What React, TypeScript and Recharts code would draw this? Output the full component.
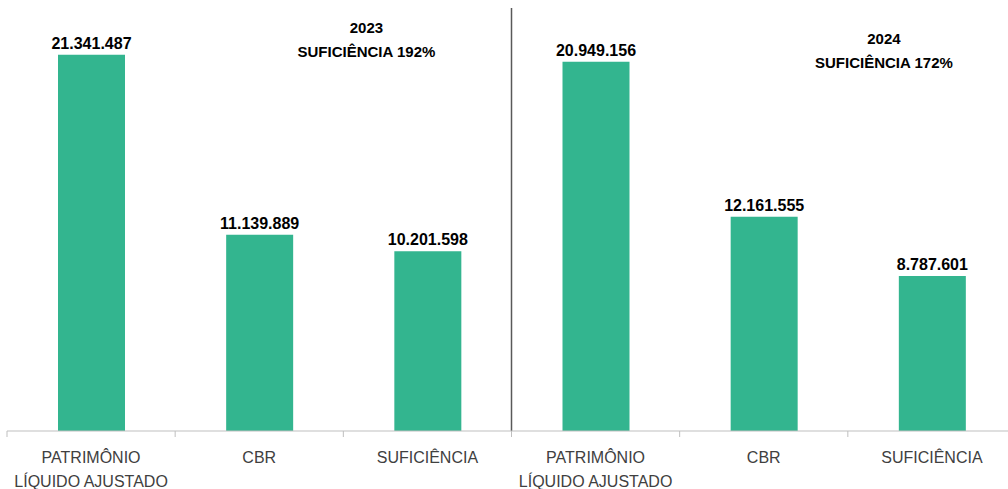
import React from 'react';
import { BarChart, Bar, XAxis, YAxis, LabelList, ReferenceLine, ReferenceDot } from 'recharts';

// two-year comparison: patrimônio líquido ajustado vs CBR vs suficiência
const categories = ['PL23', 'CBR23', 'SUF23', 'PL24', 'CBR24', 'SUF24'];
const values = [21341487, 11139889, 10201598, 20949156, 12161555, 8787601];
const tickLines = [
  ['PATRIMÔNIO', 'LÍQUIDO AJUSTADO'],
  ['CBR'],
  ['SUFICIÊNCIA'],
  ['PATRIMÔNIO', 'LÍQUIDO AJUSTADO'],
  ['CBR'],
  ['SUFICIÊNCIA'],
];
const years = ['2023', '2024'];
const sufficiency = ['SUFICIÊNCIA 192%', 'SUFICIÊNCIA 172%'];

const data = categories.map((c, i) => ({ name: c, value: values[i] }));

const FONT = '"Liberation Sans", Arial, sans-serif';
const BAR_COLOR = '#33B58F';
const AXIS_COLOR = '#bfbfbf';
const HALF_BAND = 1009 / 12;

const fmt = (v: number) => String(v).replace(/\B(?=(\d{3})+(?!\d))/g, '.');

// category label plus the boundary tick marks either side of the band
const BottomTick = ({ x, y, payload, index }: any) => {
  const half = payload && payload.offset ? payload.offset : HALF_BAND;
  const i = index ?? categories.indexOf(payload.value);
  const lines = tickLines[i] || [];
  return (
    <g>
      <line x1={x - half} x2={x - half} y1={y} y2={y + 6} stroke={AXIS_COLOR} strokeWidth={1} />
      {i === categories.length - 1 && (
        <line x1={x + half} x2={x + half} y1={y} y2={y + 6} stroke={AXIS_COLOR} strokeWidth={1} />
      )}
      <text x={x} y={y} textAnchor="middle" fontFamily={FONT} fontSize={16} fill="#404040">
        {lines.map((l, k) => (
          <tspan key={k} x={x} y={y + 32 + k * 24}>{l}</tspan>
        ))}
      </text>
    </g>
  );
};

// annotation anchored on a category, shifted horizontally
const annotationPos = [
  { cat: 'SUF23', dx: -61, dy: 25 },
  { cat: 'SUF24', dx: -48, dy: 36 },
];

const makeTitle = (i: number) => ({ viewBox }: any) => {
  const cx = viewBox.x + viewBox.width / 2 + annotationPos[i].dx;
  const top = viewBox.y + viewBox.height / 2;
  return (
    <text textAnchor="middle" fontFamily={FONT} fontSize={15} fontWeight="bold" fill="#000">
      <tspan x={cx} y={top + annotationPos[i].dy}>{years[i]}</tspan>
      <tspan x={cx} y={top + annotationPos[i].dy + 24}>{sufficiency[i]}</tspan>
    </text>
  );
};

export default function App() {
  return (
    <div style={{ position: 'absolute', left: 0, top: 0, width: 1008, height: 489, overflow: 'hidden', background: '#fff' }}>
      <BarChart
        width={1020}
        height={489}
        data={data}
        margin={{ top: 8, right: 4, left: 7, bottom: 0 }}
      >
        <XAxis
          dataKey="name"
          interval={0}
          height={58}
          tickSize={0}
          tickMargin={0}
          tickLine={false}
          axisLine={{ stroke: AXIS_COLOR, strokeWidth: 1 }}
          tick={<BottomTick />}
        />
        <YAxis hide domain={[0, 24000000]} allowDataOverflow />
        <ReferenceLine
          x="SUF23"
          position="end"
          stroke="#595959"
          strokeWidth={1.5}
        />
        {annotationPos.map((p, i) => (
          <ReferenceDot
            key={i}
            x={p.cat}
            y={24000000}
            r={1}
            fill="none"
            stroke="none"
            label={makeTitle(i)}
          />
        ))}
        <Bar dataKey="value" fill={BAR_COLOR} barSize={67} isAnimationActive={false}>
          <LabelList
            dataKey="value"
            position="top"
            offset={6}
            formatter={(v: any) => fmt(v)}
            style={{ fontFamily: FONT, fontSize: 16, fontWeight: 'bold', fill: '#000' }}
          />
        </Bar>
      </BarChart>
    </div>
  );
}
